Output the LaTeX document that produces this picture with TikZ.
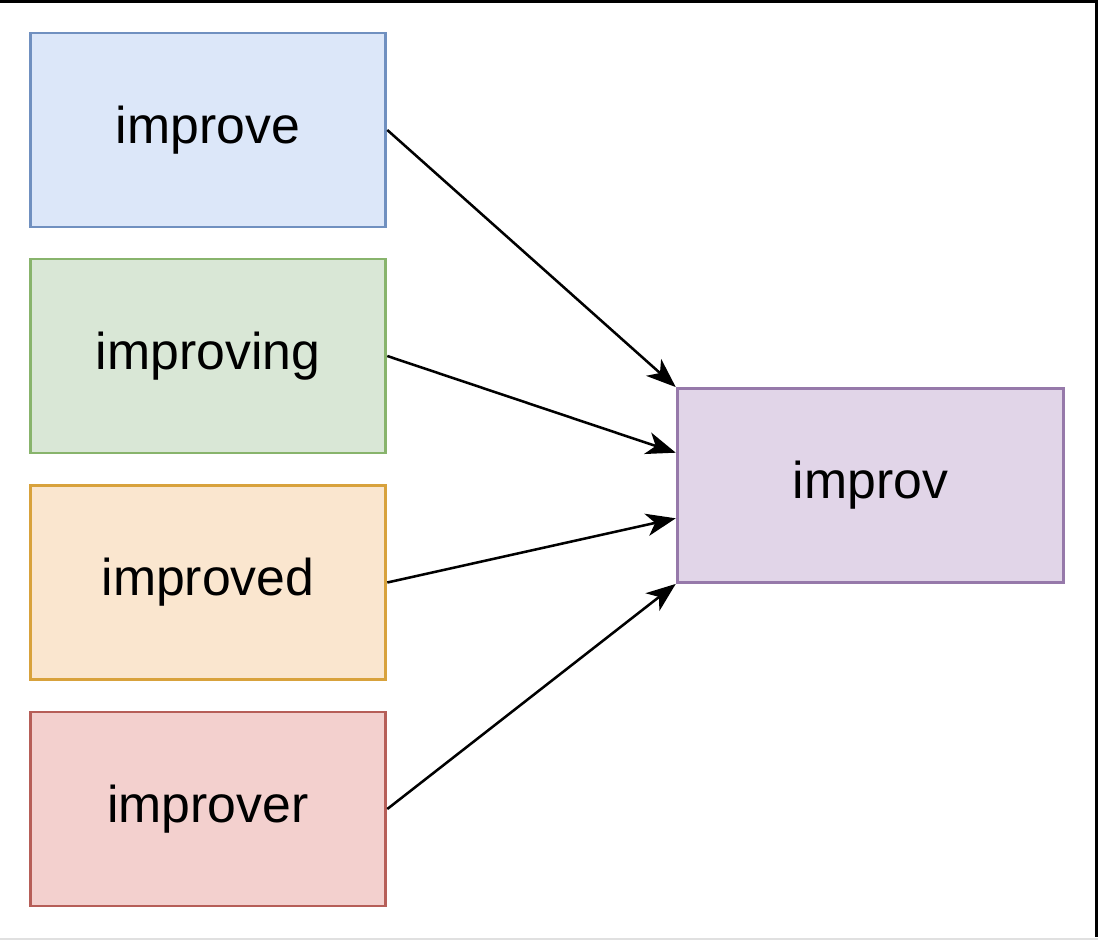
\documentclass[tikz,border=0pt]{standalone}
\usepackage{fontspec}
\setmainfont{Liberation Sans}
\usetikzlibrary{arrows.meta,calc}

\definecolor{bluefill}{HTML}{DCE7F9}
\definecolor{bluedraw}{HTML}{7090C0}
\definecolor{greenfill}{HTML}{D9E7D6}
\definecolor{greendraw}{HTML}{88B46C}
\definecolor{orangefill}{HTML}{FAE6CF}
\definecolor{orangedraw}{HTML}{D8A23C}
\definecolor{redfill}{HTML}{F3D0CE}
\definecolor{reddraw}{HTML}{B65E58}
\definecolor{purplefill}{HTML}{E1D5E8}
\definecolor{purpledraw}{HTML}{9679AA}

\tikzset{
  wordbox/.style={draw, line width=2pt, minimum width=253pt, minimum height=138pt,
    inner sep=0pt, font=\fontsize{36.8}{40}\selectfont},
  stemarrow/.style={line width=1.8pt, -{Stealth[length=21pt, width=16pt, inset=6pt]}}
}

\begin{document}
\begin{tikzpicture}[x=0.025cm, y=-0.025cm]
		\useasboundingbox (0,0) rectangle (1098,940);
		\draw [line width=2.2pt] (0,1.5) -- (1096.5,1.5) -- (1096.5,937);
		\draw [line width=1.4pt, black!12] (0,939) -- (1098,939);

		\node [wordbox, fill=bluefill, draw=bluedraw] (improve) at (208,130) {improve};
		\node [wordbox, fill=greenfill, draw=greendraw] (improving) at (208,356) {improving};
		\node [wordbox, fill=orangefill, draw=orangedraw] (improved) at (208,582.5) {improved};
		\node [wordbox, fill=redfill, draw=reddraw] (improver) at (208,809) {improver};

		\node [wordbox, fill=purplefill, draw=purpledraw, minimum width=275pt] (improv) at (870.5,485.5) {improv};

		\draw [stemarrow] (improve.east) -- (improv.north west);
		\draw [stemarrow] (improving.east) -- ($(improv.north west)!1/3!(improv.south west)$);
		\draw [stemarrow] (improved.east) -- ($(improv.north west)!2/3!(improv.south west)$);
		\draw [stemarrow] (improver.east) -- (improv.south west);
	\end{tikzpicture}
\end{document}
